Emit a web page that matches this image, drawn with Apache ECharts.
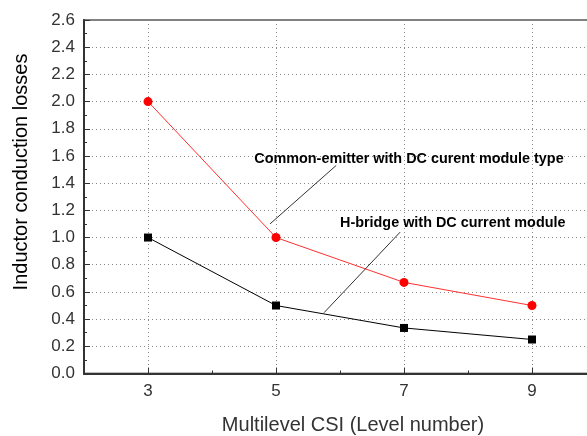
<!DOCTYPE html>
<html>
<head>
<meta charset="utf-8">
<script src="https://cdn.jsdelivr.net/npm/echarts@6/dist/echarts.min.js"></script>
<style>html,body{margin:0;padding:0;background:#fff;}#c{width:587px;height:436px;}</style>
</head>
<body>
<div id="c"></div>
<script>
const levels = ['2','3','4','5','6','7','8','9','10'];
const xValues = ['3','5','7','9'];
const commonEmitter = [2.0, 1.0, 0.67, 0.5];
const hBridge = [1.0, 0.5, 0.335, 0.25];
const yTickLabels = ['0.0','0.2','0.4','0.6','0.8','1.0','1.2','1.4','1.6','1.8','2.0','2.2','2.4','2.6'];
const yTitle = 'Inductor conduction losses';
const xTitle = 'Multilevel CSI (Level number)';
const annotations = [
  {text: 'Common-emitter with DC curent module type', at: [4.66, 1.575], from: [4.906, 1.10], to: [5.94, 1.53]},
  {text: 'H-bridge with DC current module', at: [6.0, 1.11], from: [5.75, 0.447], to: [6.94, 1.04]}
];

const isOdd = (i, v) => (parseInt(v) % 2 === 1);
const isEvenInner = (i, v) => (parseInt(v) % 2 === 0 && i > 0 && i < levels.length - 1);
const font = 'Arial, "Liberation Sans", sans-serif';

const chart = echarts.init(document.getElementById('c'), null, {renderer: 'canvas'});
chart.setOption({
  animation: false,
  backgroundColor: '#fff',
  grid: {left: 84, top: 20, width: 512, height: 353.5, outerBoundsMode: 'none', containLabel: false,
    show: true, borderColor: '#808080', borderWidth: 2, backgroundColor: 'transparent'},
  xAxis: [{
    type: 'category', data: levels, boundaryGap: false,
    axisLine: {lineStyle: {color: '#333', width: 2}},
    axisTick: {inside: true, length: 6, interval: isOdd, lineStyle: {color: '#333'}},
    axisLabel: {interval: isOdd, fontFamily: font, fontSize: 17, color: '#333', margin: 9},
    splitLine: {show: true, interval: isOdd, lineStyle: {color: '#888', type: [1, 3]}}
  }, {
    type: 'category', data: levels, boundaryGap: false, position: 'bottom',
    axisLine: {show: false},
    axisTick: {inside: true, length: 3, interval: isEvenInner, lineStyle: {color: '#333'}},
    axisLabel: {show: false}, splitLine: {show: false}
  }],
  yAxis: {
    type: 'value', min: 0, max: 2.6, interval: 0.2,
    axisLine: {show: true, lineStyle: {color: '#333', width: 2}},
    axisTick: {show: true, inside: true, length: 6, lineStyle: {color: '#333'}},
    minorTick: {show: true, splitNumber: 2, length: 3, lineStyle: {color: '#333'}},
    axisLabel: {fontFamily: font, fontSize: 17, color: '#333', margin: 9,
      formatter: (v) => yTickLabels[Math.round(v / 0.2)] || v.toFixed(1)},
    splitLine: {show: true, lineStyle: {color: '#888', type: [1, 3]}}
  },
  series: [{
    type: 'line', name: 'Common-emitter',
    data: xValues.map((x, i) => [x, commonEmitter[i]]),
    symbol: 'circle', symbolSize: 9,
    lineStyle: {color: '#ff3030', width: 1},
    itemStyle: {color: '#ff0000'}
  }, {
    type: 'line', name: 'H-bridge',
    data: xValues.map((x, i) => [x, hBridge[i]]),
    symbol: 'rect', symbolSize: 8,
    lineStyle: {color: '#000', width: 1},
    itemStyle: {color: '#000'}
  }]
});

function toPx(x, y) {
  const a = chart.convertToPixel({xAxisIndex: 0, yAxisIndex: 0}, ['2', y]);
  const b = chart.convertToPixel({xAxisIndex: 0, yAxisIndex: 0}, ['10', y]);
  return [a[0] + (b[0] - a[0]) * (x - 2) / 8, a[1]];
}
const g = [];
annotations.forEach(a => {
  const p1 = toPx(a.from[0], a.from[1]);
  const p2 = toPx(a.to[0], a.to[1]);
  const t = toPx(a.at[0], a.at[1]);
  g.push({type: 'line', shape: {x1: p1[0], y1: p1[1], x2: p2[0], y2: p2[1]}, style: {stroke: '#333', lineWidth: 1}, z: 10});
  g.push({type: 'text', x: t[0], y: t[1], style: {text: a.text, fontFamily: font, fontWeight: 'bold', fontSize: 14.4, fill: '#000', textAlign: 'left', textVerticalAlign: 'middle'}, z: 10});
});
g.push({type: 'text', x: 21, y: 172, rotation: Math.PI / 2,
  style: {text: yTitle, fontFamily: font, fontSize: 20, fill: '#000', textAlign: 'center', textVerticalAlign: 'middle'}});
g.push({type: 'text', x: 353, y: 425,
  style: {text: xTitle, fontFamily: font, fontSize: 20, fill: '#333', textAlign: 'center', textVerticalAlign: 'middle'}});
chart.setOption({graphic: g});
</script>
</body>
</html>
